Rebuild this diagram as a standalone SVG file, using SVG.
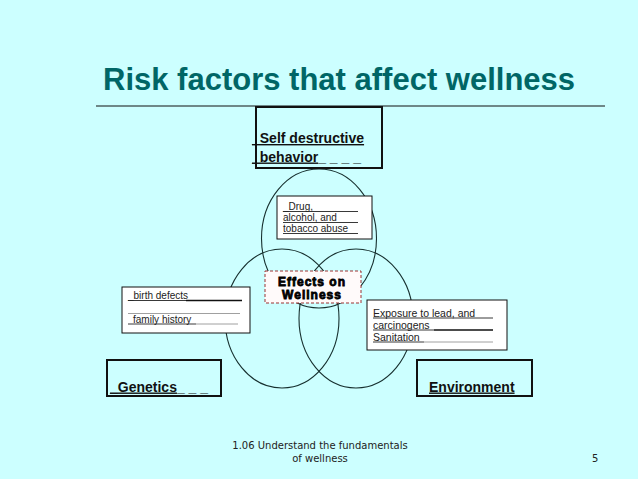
<svg xmlns="http://www.w3.org/2000/svg" width="638" height="479" viewBox="0 0 638 479">
<style>
.bg{fill:#ccffff}
.title{font-family:"Liberation Sans",Arial,sans-serif;font-weight:bold;font-size:31px;fill:#006666}
.big{font-family:"Liberation Sans",Arial,sans-serif;font-weight:bold;font-size:14px;fill:#111}
.sm{font-family:"Liberation Sans",Arial,sans-serif;font-size:10px;fill:#222}
.md{font-family:"Liberation Sans",Arial,sans-serif;font-size:10.5px;fill:#222}
.eff{font-family:"Liberation Sans",Arial,sans-serif;font-weight:bold;font-size:12px;fill:#000;stroke:#000;stroke-width:0.8;letter-spacing:1px}
.foot{font-family:"DejaVu Sans",Verdana,sans-serif;font-size:10px;fill:#222}
.thick{fill:none;stroke:#111;stroke-width:2}
.thin{fill:#fff;stroke:#111;stroke-width:1}
.ell{fill:none;stroke:#17302f;stroke-width:1.1}
.ul{stroke:#222;stroke-width:0.9}
.ulb{stroke:#111;stroke-width:1.4}
.ulg{stroke:#888;stroke-width:0.8}
.ud{text-decoration:underline}
</style>
<rect class="bg" x="0" y="0" width="638" height="479"/>
<g id="title">
<text class="title" x="103" y="90">Risk factors that affect wellness</text>
<line x1="96" y1="106" x2="605" y2="106" stroke="#111" stroke-width="1"/>
</g>
<g id="connectors">
<ellipse class="ell" cx="319" cy="238.5" rx="57.5" ry="69.5"/>
<ellipse class="ell" cx="282" cy="318.5" rx="57" ry="69.5"/>
<ellipse class="ell" cx="356" cy="318.5" rx="57" ry="69.5"/>
</g>
<g id="self-destructive">
<rect class="thick" x="256" y="107" width="126" height="61"/>
<text class="big ud" x="252" y="143">_Self destructive</text>
<text class="big" x="252" y="161.5"><tspan class="ud">_behavior</tspan>_ _ _ _</text>
</g>
<g id="drug">
<rect class="thin" x="277" y="196" width="95" height="43"/>
<text class="sm" x="283" y="210">_Drug,</text>
<line class="ul" x1="283" y1="211.5" x2="358" y2="211.5"/>
<text class="sm" x="283" y="221">alcohol, and</text>
<line class="ul" x1="283" y1="222.5" x2="358" y2="222.5"/>
<text class="sm" x="283" y="232">tobacco abuse</text>
<line class="ul" x1="283" y1="233.5" x2="358" y2="233.5"/>
</g>
<g id="effects">
<rect x="265" y="271" width="96" height="32" fill="#fffafa" stroke="#993333" stroke-width="1" stroke-dasharray="3,2"/>
<text class="eff" x="312" y="286" text-anchor="middle">Effects on</text>
<text class="eff" x="312" y="298.5" text-anchor="middle">Wellness</text>
</g>
<g id="birth">
<rect class="thin" x="122" y="287" width="128" height="46"/>
<text class="sm" x="128" y="299">_birth defects</text>
<line class="ul" x1="128" y1="300.5" x2="186" y2="300.5"/>
<line class="ulb" x1="186" y1="300.5" x2="242" y2="300.5"/>
<line class="ulg" x1="128" y1="313.5" x2="240" y2="313.5"/>
<text class="sm" x="133" y="322.5">family history</text>
<line class="ul" x1="128" y1="324" x2="196" y2="324"/>
<line class="ulg" x1="196" y1="324" x2="238" y2="324"/>
</g>
<g id="exposure">
<rect class="thin" x="367" y="300" width="140" height="50"/>
<text class="md" x="373" y="316.5">Exposure to lead, and</text>
<line class="ul" x1="373" y1="318" x2="493" y2="318"/>
<text class="md" x="373" y="328.5">carcinogens</text>
<line class="ul" x1="373" y1="330" x2="434" y2="330"/>
<line class="ulb" x1="434" y1="330" x2="493" y2="330"/>
<text class="md" x="373" y="340.5">Sanitation</text>
<line class="ul" x1="373" y1="342" x2="424" y2="342"/>
<line class="ulg" x1="424" y1="342" x2="493" y2="342"/>
</g>
<g id="genetics">
<rect class="thick" x="107" y="360" width="114" height="36"/>
<text class="big" x="110" y="391.5"><tspan class="ud">_Genetics</tspan>_ _ _</text>
</g>
<g id="environment">
<rect class="thick" x="417" y="360" width="115" height="36"/>
<text class="big ud" x="429" y="391.5">Environment</text>
</g>
<g id="footer">
<text class="foot" x="320" y="449" text-anchor="middle">1.06 Understand the fundamentals</text>
<text class="foot" x="320" y="461.5" text-anchor="middle">of wellness</text>
<text class="foot" x="592" y="461.5">5</text>
</g>
</svg>
